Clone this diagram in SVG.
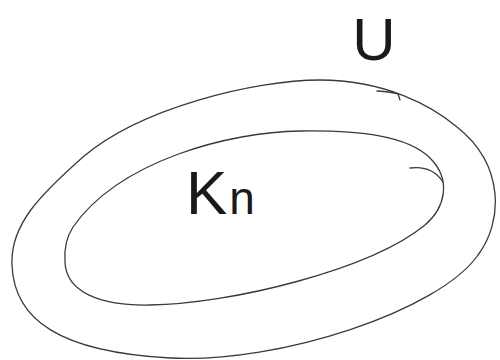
<svg xmlns="http://www.w3.org/2000/svg" width="500" height="360" viewBox="0 0 500 360">
<style>
.ln{fill:none;stroke:#3a3a3a;stroke-width:1.3;stroke-linecap:round;stroke-linejoin:round}
.lbl{font-family:"Liberation Sans",Arial,sans-serif;fill:#1a1a1a}
</style>
<rect width="500" height="360" fill="#fff"/>
<g id="universe">
<path class="ln" d="M12,265 C14,320 60,352 170,358 C280,364 440,310 478,255 C503,222 505,165 457,127 C432,106 385,80 320,80 C255,80 140,108 83,157 C40,195 10,225 12,265 Z"/>
<path class="ln" d="M377,91 Q392,92 398,94 L400,100"/>
<text class="lbl" x="374" y="60" font-size="60" text-anchor="middle">U</text>
</g>
<g id="kn">
<path class="ln" d="M65,262 C66,292 100,306 150,305 C230,304 370,270 425,225 C445,208 452,180 430,158 C408,136 360,130 300,131 C230,132 120,160 73,227 C66,238 64,250 65,262 Z"/>
<path class="ln" d="M410,168 Q432,165 443,182"/>
<text class="lbl" x="186" y="214"><tspan font-size="62">K</tspan><tspan font-size="46" dx="2">n</tspan></text>
</g>
</svg>
